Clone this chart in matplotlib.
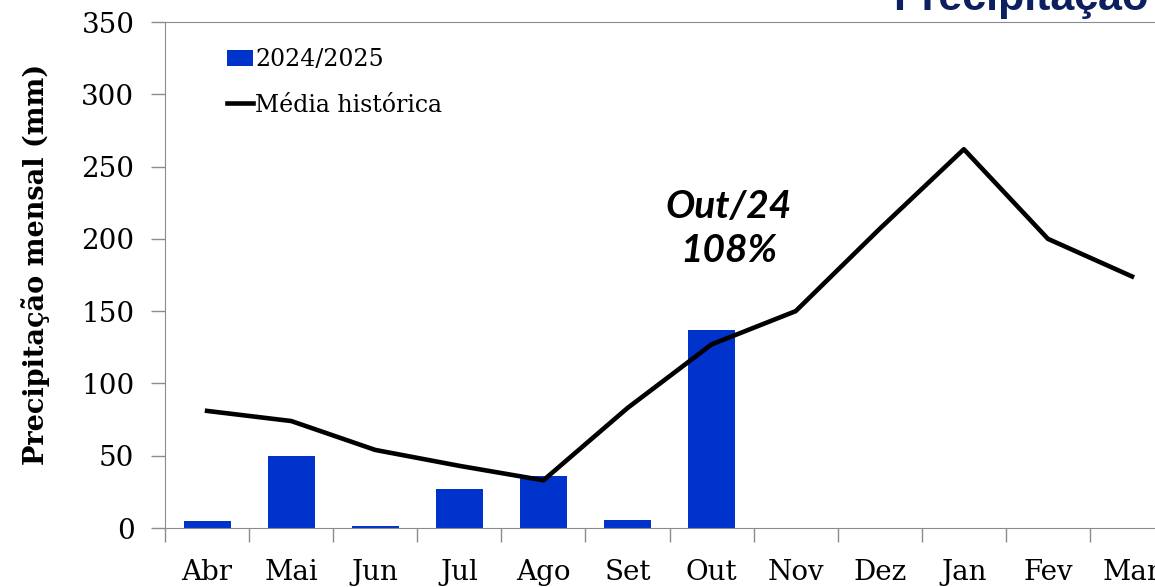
import matplotlib.pyplot as plt
import numpy as np

meses = ['Abr', 'Mai', 'Jun', 'Jul', 'Ago', 'Set', 'Out', 'Nov', 'Dez', 'Jan', 'Fev', 'Mar']
chuva_2024 = [5, 50, 1.5, 27, 36, 5.5, 137]
media_historica = [81, 74, 54, 43, 33, 83, 127, 150, 207, 262, 200, 174]

azul = '#0033cc'
cinza = '#8c8c8c'
serif = 'DejaVu Serif'

fig = plt.figure(figsize=(11.55, 5.87), dpi=100)
ax = fig.add_axes([0.1429, 0.1005, 0.8736, 0.862])

x = np.arange(len(meses))
barras = ax.bar(x[:len(chuva_2024)], chuva_2024, width=0.56, color=azul, label='2024/2025', zorder=2)
linha, = ax.plot(x, media_historica, color='black', linewidth=3.3, label='Média histórica', zorder=3)

ax.set_xlim(-0.5, len(meses) - 0.5)
ax.set_ylim(0, 350)
ax.set_yticks(range(0, 351, 50))
ax.set_xticks(x)
ax.set_xticklabels(meses, fontfamily=serif, fontsize=20)
ax.set_xticks(np.arange(-0.5, len(meses), 1), minor=True)
ax.tick_params(axis='x', which='major', length=0, pad=22)
ax.tick_params(axis='x', which='minor', length=10, color=cinza, width=1)
ax.tick_params(axis='y', length=10, color=cinza, width=1, pad=12, labelsize=20)
for lbl in ax.get_yticklabels():
    lbl.set_fontfamily(serif)

for side in ['left', 'bottom', 'top']:
    ax.spines[side].set_color(cinza)
ax.spines['right'].set_visible(False)

ax.set_ylabel('Precipitação mensal (mm)', fontfamily=serif, fontweight='bold', fontsize=19.5, va='center')
ax.yaxis.set_label_coords(-0.128, 0.522)

ax.legend([barras, linha], ['2024/2025', 'Média histórica'], loc='upper left',
          bbox_to_anchor=(0.04, 0.99), frameon=False,
          prop={'family': serif, 'size': 17}, handlelength=1.1, handletextpad=0.1,
          labelspacing=0.95)

ax.text(6.2, 207, 'Out/24\n108%', ha='center', va='center', fontfamily='Lato',
        fontweight='bold', fontstyle='italic', fontsize=28, linespacing=1.3)

fig.text(0.773, 1 - 10 / 587, 'Precipitação', ha='left', va='baseline',
         fontfamily='Liberation Sans', fontweight='bold', fontsize=31, color='#0d1f5e')

fig.savefig('out.png', dpi=100)
